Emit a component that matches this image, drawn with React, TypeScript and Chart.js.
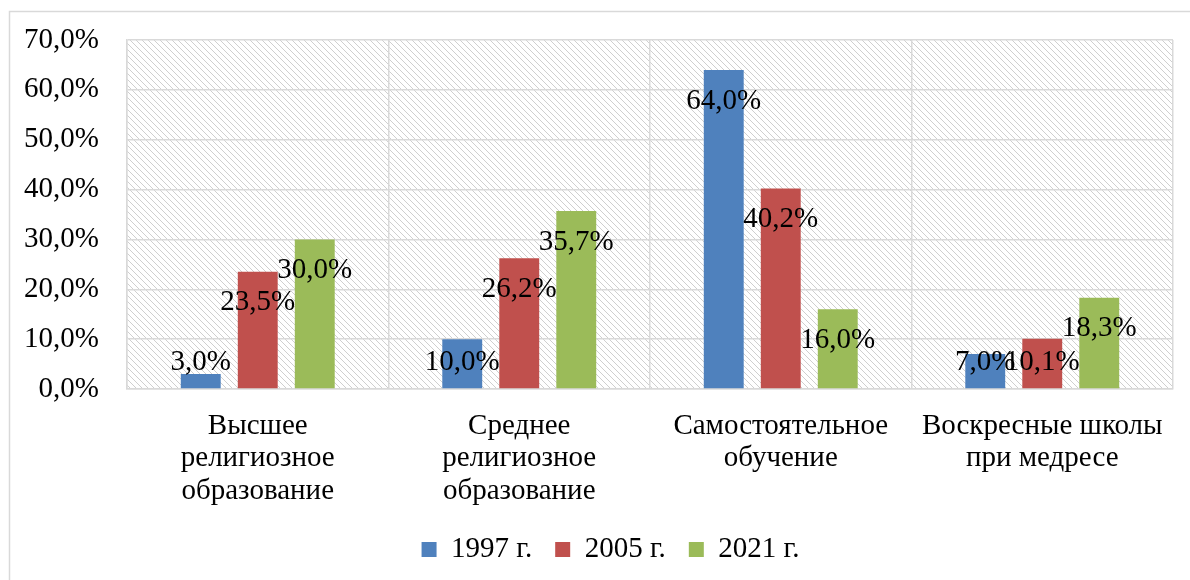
import React, { useEffect, useRef } from "react";
import { Chart, registerables } from "chart.js";

Chart.register(...registerables);

const categories: string[][] = [
  ["Высшее", "религиозное", "образование"],
  ["Среднее", "религиозное", "образование"],
  ["Самостоятельное", "обучение"],
  ["Воскресные школы", "при медресе"],
];
const seriesNames = ["1997 г.", "2005 г.", "2021 г."];
const values1997 = [3.0, 10.0, 64.0, 7.0];
const values2005 = [23.5, 26.2, 40.2, 10.1];
const values2021 = [30.0, 35.7, 16.0, 18.3];
const seriesColors = ["#4F81BD", "#C0504D", "#9BBB59"];
const yTicks = [0, 10, 20, 30, 40, 50, 60, 70];

const FONT = "'Liberation Serif', 'Times New Roman', serif";
const FS = 29;

const fmt = (v: number) => v.toFixed(1).replace(".", ",") + "%";

const framePlugin = {
  id: "frameAndHatch",
  afterLayout(chart: any) {
    if (chart.legend) {
      chart.legend.left += 24;
      chart.legend.right += 24;
    }
  },
  beforeDraw(chart: any) {
    const { ctx, chartArea, width, height } = chart;
    ctx.save();
    ctx.fillStyle = "#ffffff";
    ctx.fillRect(0, 0, width, height);
    ctx.strokeStyle = "#d9d9d9";
    ctx.lineWidth = 1.5;
    ctx.beginPath();
    ctx.moveTo(9.5, height);
    ctx.lineTo(9.5, 11.5);
    ctx.lineTo(width, 11.5);
    ctx.stroke();
    const tile = document.createElement("canvas");
    const s = 6;
    tile.width = s;
    tile.height = s;
    const tctx = tile.getContext("2d")!;
    tctx.fillStyle = "#ffffff";
    tctx.fillRect(0, 0, s, s);
    tctx.fillStyle = "#cfcfcf";
    for (let i = 0; i < s; i++) tctx.fillRect(i, i, 1, 1);
    const pat = ctx.createPattern(tile, "repeat");
    if (pat) {
      ctx.fillStyle = pat;
      ctx.fillRect(chartArea.left, chartArea.top, chartArea.right - chartArea.left, chartArea.bottom - chartArea.top);
    }
    ctx.restore();
  },
};

const labelPlugin = {
  id: "valueLabels",
  afterDatasetsDraw(chart: any) {
    const { ctx, chartArea } = chart;
    ctx.save();
    ctx.font = `${FS}px ${FONT}`;
    ctx.fillStyle = "#000000";
    ctx.textAlign = "center";
    ctx.textBaseline = "middle";
    chart.data.datasets.forEach((ds: any, di: number) => {
      const meta = chart.getDatasetMeta(di);
      meta.data.forEach((bar: any, i: number) => {
        const y = Math.min(bar.y + 31, chartArea.bottom - 27);
        ctx.fillText(fmt(ds.data[i]), bar.x, y);
      });
    });
    ctx.restore();
  },
};

export default function App() {
  const ref = useRef<HTMLCanvasElement>(null);
  useEffect(() => {
    if (!ref.current) return;
    const chart = new Chart(ref.current, {
      type: "bar",
      data: {
        labels: categories,
        datasets: [values1997, values2005, values2021].map((d, i) => ({
          label: seriesNames[i],
          data: d,
          backgroundColor: seriesColors[i],
          categoryPercentage: 0.654,
          barPercentage: 0.7,
        })),
      },
      options: {
        animation: false,
        responsive: true,
        maintainAspectRatio: false,
        layout: { padding: { left: 0, right: 17, top: 40, bottom: 6 } },
        plugins: {
          tooltip: { enabled: false },
          legend: {
            position: "bottom",
            labels: {
              boxWidth: 15,
              boxHeight: 15,
              padding: 23,
              color: "#000000",
              font: { family: FONT, size: FS },
            },
          },
        },
        scales: {
          x: {
            grid: { color: "#d9d9d9", lineWidth: 1.5, drawTicks: false, offset: true },
            border: { color: "#d9d9d9", width: 1.5 },
            ticks: {
              color: "#000000",
              font: { family: FONT, size: FS, lineHeight: 1.12 },
              padding: 21,
              maxRotation: 0,
              autoSkip: false,
            },
            afterFit(scale: any) {
              scale.height = 123;
              scale.paddingLeft = 0;
              scale.paddingRight = 0;
            },
          },
          y: {
            min: 0,
            max: 70,
            afterBuildTicks(scale: any) {
              scale.ticks = yTicks.map((v) => ({ value: v }));
            },
            grid: { color: "#d9d9d9", lineWidth: 1.5, drawTicks: false },
            border: { color: "#d9d9d9", width: 1.5 },
            ticks: {
              color: "#000000",
              font: { family: FONT, size: FS },
              padding: 28,
              callback: (v: any) => fmt(Number(v)),
            },
            afterFit(scale: any) {
              scale.width = 127;
              scale.paddingTop = 0;
              scale.paddingBottom = 0;
            },
          },
        },
      },
      plugins: [framePlugin, labelPlugin],
    });
    return () => chart.destroy();
  }, []);
  return (
    <div style={{ position: "absolute", left: 0, top: 0, width: 1190, height: 580 }}>
      <canvas ref={ref} />
    </div>
  );
}
